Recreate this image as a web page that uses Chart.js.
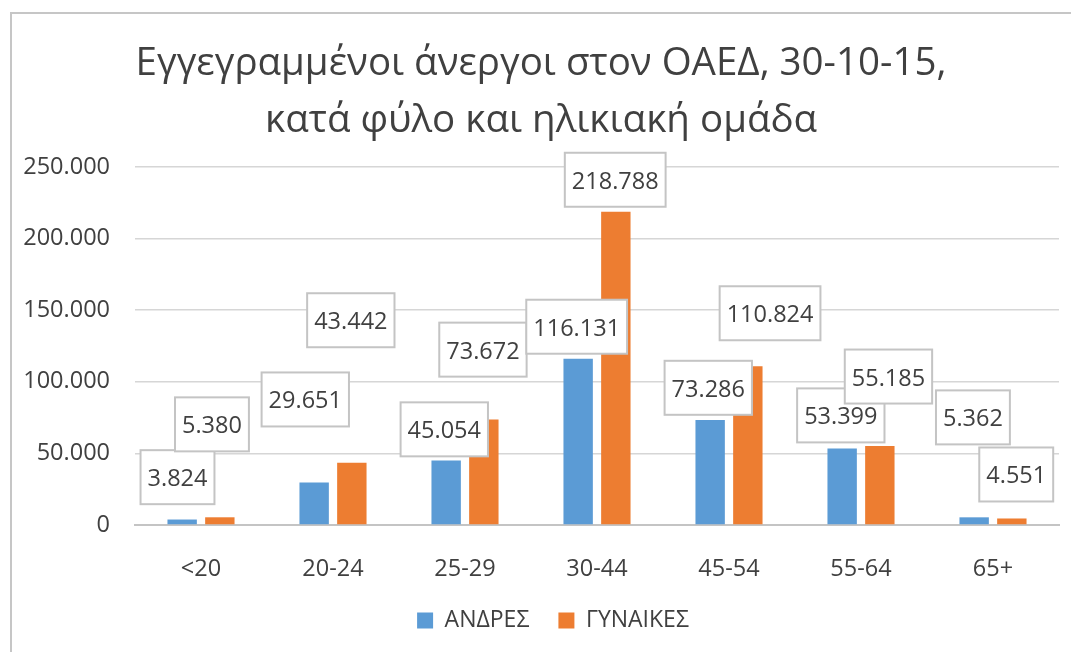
<!DOCTYPE html>
<html>
<head>
<meta charset="utf-8">
<script src="https://cdn.jsdelivr.net/npm/chart.js@4.4.0/dist/chart.umd.min.js"></script>
<style>
  html, body { margin: 0; padding: 0; background: #ffffff; overflow: hidden; }
  #frame { position: absolute; left: 10px; top: 12px; width: 1200px; height: 800px; border: 2px solid #c6c6c6; box-sizing: border-box; }
  #c { position: absolute; left: 0; top: 0; }
</style>
</head>
<body>
<div id="frame"></div>
<canvas id="c" width="1071" height="652"></canvas>
<script>
// ---- data ----
const categories = ['<20', '20-24', '25-29', '30-44', '45-54', '55-64', '65+'];
const seriesNames = ['ΑΝΔΡΕΣ', 'ΓΥΝΑΙΚΕΣ'];
const men   = [3824, 29651, 45054, 116131, 73286, 53399, 5362];
const women = [5380, 43442, 73672, 218788, 110824, 55185, 4551];
const yTicks = [0, 50000, 100000, 150000, 200000, 250000];
const titleLines = ['Εγγεγραμμένοι άνεργοι στον ΟΑΕΔ, 30-10-15,', 'κατά φύλο και ηλικιακή ομάδα'];

// label placement (dragged labels): centre in data units (category offset, value)
const menLabelDX   = [-0.178, -0.210, -0.157, -0.154, -0.157, -0.153, -0.152];
const menLabelY    = [33400, 87670, 66800, 138460, 95810, 76540, 75150];
const womenLabelDX = [0.083, 0.135, 0.136, 0.138, 0.311, 0.208, 0.176];
const womenLabelY  = [70280, 142990, 122460, 241090, 147860, 103670, 35280];

const fmt = v => String(v).replace(/\B(?=(\d{3})+(?!\d))/g, '.');
const FONT = "'Open Sans', sans-serif";
const TEXT = '#404040';

Chart.defaults.font.family = FONT;
Chart.defaults.color = TEXT;

const boxLabels = {
  id: 'boxLabels',
  afterDatasetsDraw(chart, args, opts) {
    const ctx = chart.ctx;
    const xs = chart.scales.x, ys = chart.scales.y;
    ctx.save();
    ctx.font = opts.size + 'px ' + FONT;
    for (let i = 0; i < categories.length; i++) {
      chart.data.datasets.forEach((ds, d) => {
        const a = opts.anchors[d];
        const cx = xs.getPixelForValue(i + a.dx[i]);
        const cy = ys.getPixelForValue(a.y[i]);
        const text = fmt(ds.data[i]);
        const w = ctx.measureText(text).width + 2 * opts.padX;
        const h = opts.boxH;
        ctx.fillStyle = '#ffffff';
        ctx.fillRect(cx - w / 2, cy - h / 2, w, h);
        ctx.strokeStyle = opts.border;
        ctx.lineWidth = 2;
        ctx.strokeRect(cx - w / 2, cy - h / 2, w, h);
        ctx.fillStyle = TEXT;
        ctx.textAlign = 'center';
        ctx.textBaseline = 'alphabetic';
        ctx.fillText(text, cx, cy + opts.baseShift);
      });
    }
    ctx.restore();
  }
};

const legendShift = {
  id: 'legendShift',
  afterLayout(chart, args, opts) {
    const lg = chart.legend;
    if (lg) { lg.left += opts.dx; lg.right += opts.dx; }
  }
};

new Chart(document.getElementById('c'), {
  type: 'bar',
  data: {
    labels: categories,
    datasets: [
      { label: seriesNames[0], data: men, backgroundColor: '#5B9BD5' },
      { label: seriesNames[1], data: women, backgroundColor: '#ED7D31' }
    ]
  },
  plugins: [boxLabels, legendShift],
  options: {
    responsive: false,
    animation: false,
    datasets: { bar: { categoryPercentage: 0.571, barPercentage: 0.78 } },
    layout: { padding: { left: 23, right: 12, top: 0, bottom: 10 } },
    scales: {
      x: {
        grid: { display: false, drawTicks: false },
        border: { display: true, color: '#c4c4c4', width: 2 },
        ticks: { font: { size: 23.5 }, color: TEXT, padding: 30 },
        afterFit: s => { s.height = 55; }
      },
      y: {
        min: 0, max: 250000,
        afterBuildTicks: s => { s.ticks = yTicks.map(v => ({ value: v })); },
        grid: { color: '#d6d6d6', lineWidth: 1.5, drawTicks: false },
        border: { display: false },
        ticks: { font: { size: 23.5 }, color: TEXT, padding: 25, callback: v => fmt(v) },
        afterFit: s => { s.width = 112; }
      }
    },
    plugins: {
      title: {
        display: true,
        text: titleLines,
        color: TEXT,
        font: { size: 38.5, weight: 'normal', lineHeight: '57px' },
        padding: { top: 36, bottom: 17 }
      },
      legend: {
        position: 'bottom',
        labels: { boxWidth: 16, boxHeight: 16, padding: 29, color: TEXT, font: { size: 23 } }
      },
      tooltip: { enabled: false },
      legendShift: { dx: 12 },
      boxLabels: {
        size: 23.5, padX: 7, boxH: 54, baseShift: 9, border: '#c4c4c4',
        anchors: [ { dx: menLabelDX, y: menLabelY }, { dx: womenLabelDX, y: womenLabelY } ]
      }
    }
  }
});
</script>
</body>
</html>
